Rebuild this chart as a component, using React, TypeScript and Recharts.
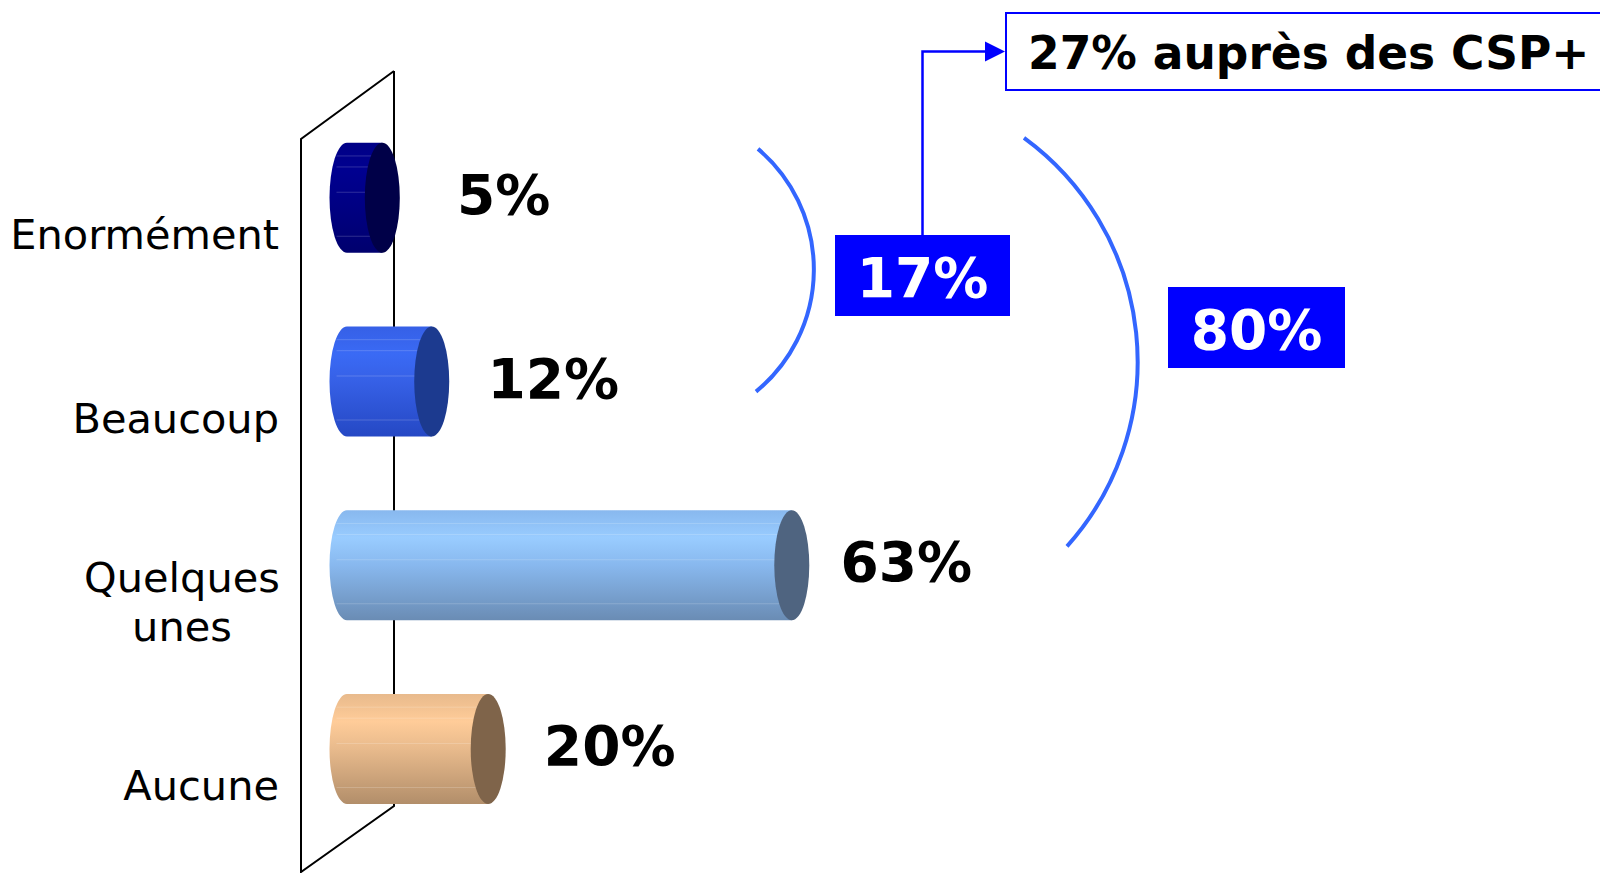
import React from "react";
import { BarChart, Bar, XAxis, YAxis, LabelList, Customized } from "recharts";

// ---- data ----
const categories = ["Enormément", "Beaucoup", "Quelques\nunes", "Aucune"];
const values = [5, 12, 63, 20];
const valueLabels = ["5%", "12%", "63%", "20%"];
const groupLabels = ["17%", "80%"];
const noteText = "27% auprès des CSP+";

// ---- styles ----
const bodyTop = ["#000086", "#3660e6", "#88b8ee", "#e8ba8c"];
const bodyLight = ["#000090", "#3a6af5", "#99ccff", "#ffcc99"];
const bodyBottom = ["#00006e", "#2548c4", "#6a8cb4", "#b28e6a"];
const capColor = ["#000048", "#1c3a8f", "#4f6480", "#7f644a"];

const W = 1600;
const H = 873;
const MARGIN = { top: 106, right: 547, bottom: 32, left: 0 };
const YAXIS_W = 347;
const BAND = (H - MARGIN.top - MARGIN.bottom) / categories.length;
const bandCenter = (i: number) => MARGIN.top + BAND * (i + 0.5);
const RX = 17.5;
const LABEL_FONT = "'DejaVu Sans', Verdana, sans-serif";

const data = categories.map((c, i) => ({ name: c, value: values[i], label: valueLabels[i] }));

function Cylinder(props: any) {
  const { x, y, width, height, index } = props;
  const ry = height / 2;
  const xr = x + width;
  const mid = y + ry;
  const d = `M ${x} ${y} L ${xr} ${y} L ${xr} ${y + height} L ${x} ${y + height} A ${RX} ${ry} 0 0 1 ${x} ${y} Z`;
  return (
    <g>
      <path d={d} fill={`url(#cyl${index})`} />
      {[0.12, 0.22, 0.45, 0.85].map((f, k) => (
        <line key={k} x1={x - RX * 0.6} x2={xr} y1={y + height * f} y2={y + height * f} stroke="#ffffff" strokeOpacity={0.18} strokeWidth={1} />
      ))}
      <ellipse cx={xr} cy={mid} rx={RX} ry={ry} fill={capColor[index]} />
    </g>
  );
}

function ValueLabel(props: any) {
  const { x, y, width, height, value, index } = props;
  const dx = index === 2 ? 97 : 104;
  return (
    <text
      x={x + width + RX + dx}
      y={y + height / 2 - 3}
      textAnchor="middle"
      dominantBaseline="central"
      fontFamily={LABEL_FONT}
      fontWeight="bold"
      fontSize={55}
      fill="#000"
    >
      {value}
    </text>
  );
}

function CategoryTick(props: any) {
  const { y, payload } = props;
  const lines = String(payload.value).split("\n");
  const lh = 49;
  if (lines.length === 1) {
    return (
      <text x={279} y={y + 51} textAnchor="end" fontFamily={LABEL_FONT} fontSize={41.5} fill="#000">
        {lines[0]}
      </text>
    );
  }
  return (
    <text textAnchor="middle" fontFamily={LABEL_FONT} fontSize={41.5} fill="#000">
      {lines.map((l, k) => (
        <tspan key={k} x={182} y={y + 27 + k * lh}>
          {l}
        </tspan>
      ))}
    </text>
  );
}

function Wall() {
  const backX = 394;
  const frontX = 301;
  const top = 71;
  const bottom = 806;
  const depth = 68;
  return (
    <g stroke="#000" strokeWidth={2} fill="none">
      <polyline points={`${backX},${top} ${backX},${bottom} ${frontX},${bottom + 66} ${frontX},${top + depth} ${backX},${top}`} />
    </g>
  );
}

function Annotations() {
  const c0 = bandCenter(0);
  const c1 = bandCenter(1);
  const c2 = bandCenter(2);
  const arc = "#3366ff";
  const blue = "#0000ff";
  const box1 = { x: 835, y: 235, w: 175, h: 81 };
  const box2 = { x: 1168, y: 287, w: 177, h: 81 };
  const note = { x: 1006, y: 13, w: 640, h: 77 };
  const connX = box1.x + box1.w / 2;
  const noteY = note.y + note.h / 2;
  return (
    <g>
      <path d={`M 758 ${c0 - 49} A 158 158 0 0 1 756 ${c1 + 10}`} stroke={arc} strokeWidth={4} fill="none" />
      <path d={`M 1024 ${c0 - 60} A 277 277 0 0 1 1067 ${c2 - 19}`} stroke={arc} strokeWidth={4} fill="none" />
      <rect x={box1.x} y={box1.y} width={box1.w} height={box1.h} fill={blue} />
      <text x={box1.x + box1.w / 2} y={box1.y + box1.h / 2 + 2} textAnchor="middle" dominantBaseline="central" fontFamily={LABEL_FONT} fontWeight="bold" fontSize={55} fill="#fff">
        {groupLabels[0]}
      </text>
      <rect x={box2.x} y={box2.y} width={box2.w} height={box2.h} fill={blue} />
      <text x={box2.x + box2.w / 2} y={box2.y + box2.h / 2 + 2} textAnchor="middle" dominantBaseline="central" fontFamily={LABEL_FONT} fontWeight="bold" fontSize={55} fill="#fff">
        {groupLabels[1]}
      </text>
      <polyline points={`${connX},${box1.y} ${connX},${noteY} ${note.x - 14},${noteY}`} stroke={blue} strokeWidth={2.5} fill="none" />
      <polygon points={`${note.x - 1},${noteY} ${note.x - 21},${noteY - 10} ${note.x - 21},${noteY + 10}`} fill={blue} />
      <rect x={note.x} y={note.y} width={note.w} height={note.h} fill="#fff" stroke={blue} strokeWidth={2} />
      <text x={note.x + 22} y={noteY + 2} dominantBaseline="central" fontFamily={LABEL_FONT} fontWeight="bold" fontSize={45.5} fill="#000">
        {noteText}
      </text>
    </g>
  );
}

export default function App() {
  return (
    <div style={{ position: "absolute", left: 0, top: 0, width: W, height: H, background: "#fff" }}>
      <BarChart width={W} height={H} data={data} layout="vertical" margin={MARGIN} barCategoryGap="20%">
        <defs>
          {categories.map((_, i) => (
            <linearGradient key={i} id={`cyl${i}`} x1="0" y1="0" x2="0" y2="1">
              <stop offset="0%" stopColor={bodyTop[i]} />
              <stop offset="25%" stopColor={bodyLight[i]} />
              <stop offset="50%" stopColor={bodyTop[i]} />
              <stop offset="100%" stopColor={bodyBottom[i]} />
            </linearGradient>
          ))}
        </defs>
        <Customized component={Wall} />
        <XAxis type="number" domain={[0, 100]} hide />
        <YAxis type="category" dataKey="name" width={YAXIS_W} axisLine={false} tickLine={false} tick={<CategoryTick />} interval={0} />
        <Bar dataKey="value" shape={<Cylinder />} isAnimationActive={false}>
          <LabelList dataKey="label" content={<ValueLabel />} />
        </Bar>
        <Customized component={Annotations} />
      </BarChart>
    </div>
  );
}
